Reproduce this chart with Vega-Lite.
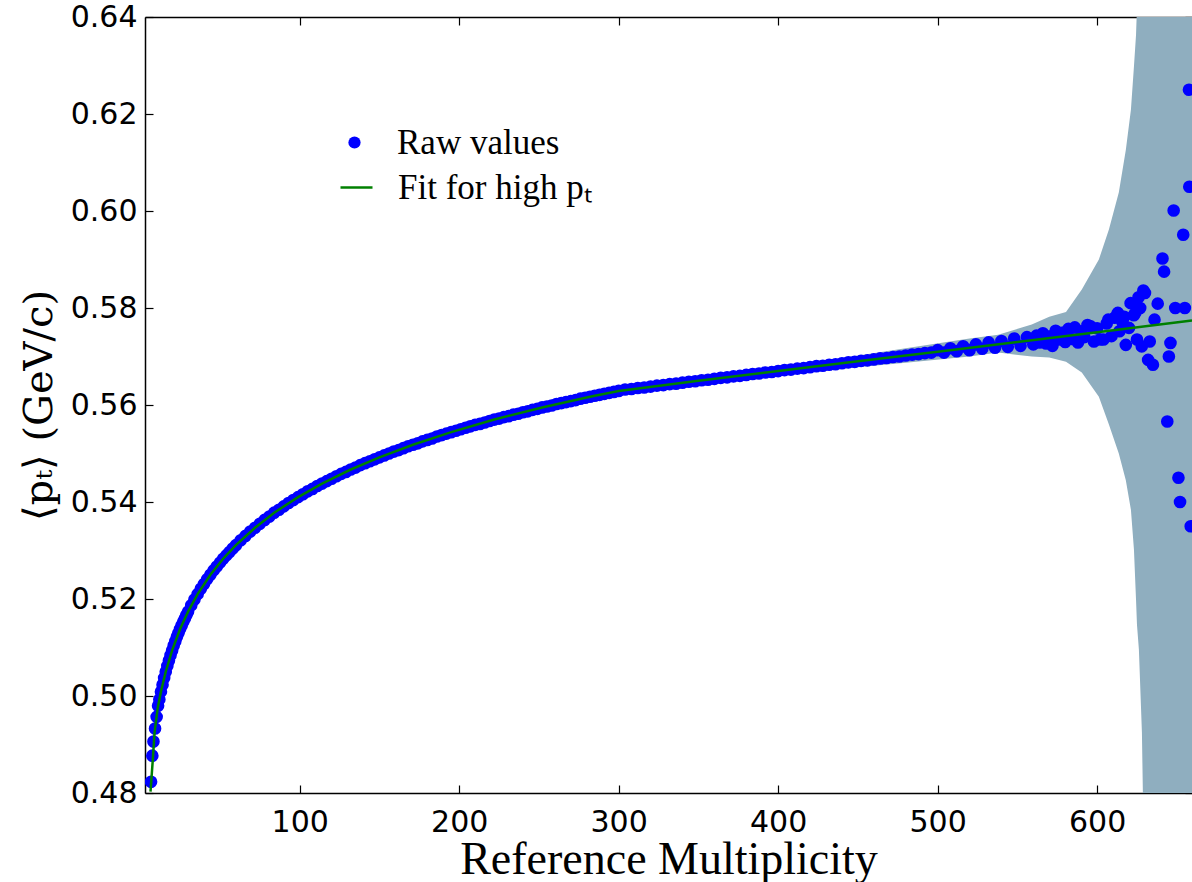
{
  "$schema": "https://vega.github.io/schema/vega-lite/v6.json",
  "width": 1047,
  "height": 776,
  "autosize": {"type": "none"},
  "padding": {"left": 145, "top": 17, "right": 0, "bottom": 89},
  "background": "white",
  "config": {
    "view": {"stroke": null},
    "axis": {
      "grid": false,
      "domainColor": "black",
      "domainWidth": 1.5,
      "tickColor": "black",
      "tickWidth": 1.2,
      "labelColor": "black",
      "labelFont": "DejaVu Sans",
      "labelFontSize": 30,
      "labelFlush": false,
      "labelOverlap": false,
      "titleColor": "black",
      "titleFont": "Liberation Serif",
      "titleFontSize": 46,
      "titleFontWeight": "normal"
    },
    "legend": {
      "labelFont": "Liberation Serif",
      "labelFontSize": 35,
      "labelColor": "black",
      "labelLimit": 0,
      "padding": 0
    }
  },
  "datasets": {
    "raw": [
      {"m":6.8,"v":0.4823},{"m":7.6,"v":0.4877},{"m":8.3,"v":0.4906},{"m":9.3,"v":0.4933},{"m":10.3,"v":0.4957},{"m":11.2,"v":0.4980},
      {"m":12,"v":0.4993},{"m":13,"v":0.5009},{"m":14,"v":0.5023},{"m":15,"v":0.5037},{"m":16,"v":0.5050},{"m":17,"v":0.5062},{"m":18,"v":0.5073},{"m":19,"v":0.5084},{"m":20,"v":0.5094},{"m":21,"v":0.5104},{"m":22,"v":0.5113},{"m":23,"v":0.5122},{"m":24,"v":0.5130},{"m":25,"v":0.5138},{"m":26,"v":0.5146},{"m":27,"v":0.5153},{"m":28,"v":0.5160},{"m":29,"v":0.5167},{"m":30,"v":0.5174},
      {"m":32,"v":0.5187},{"m":34,"v":0.5199},{"m":36,"v":0.5210},{"m":38,"v":0.5221},{"m":40,"v":0.5231},{"m":42,"v":0.5241},{"m":44,"v":0.5250},{"m":46,"v":0.5259},{"m":48,"v":0.5267},{"m":50,"v":0.5275},{"m":52,"v":0.5283},{"m":54,"v":0.5290},{"m":56,"v":0.5297},{"m":58,"v":0.5304},{"m":60,"v":0.5311},
      {"m":63,"v":0.5321},{"m":66,"v":0.5330},{"m":69,"v":0.5339},{"m":72,"v":0.5347},{"m":75,"v":0.5355},{"m":78,"v":0.5363},{"m":81,"v":0.5370},{"m":84,"v":0.5378},{"m":87,"v":0.5384},{"m":90,"v":0.5391},{"m":93,"v":0.5398},{"m":96,"v":0.5404},{"m":99,"v":0.5410},{"m":102,"v":0.5416},{"m":105,"v":0.5422},{"m":108,"v":0.5427},{"m":111,"v":0.5433},{"m":114,"v":0.5438},{"m":117,"v":0.5443},{"m":120,"v":0.5448},{"m":123,"v":0.5453},{"m":126,"v":0.5458},{"m":129,"v":0.5462},{"m":132,"v":0.5467},{"m":135,"v":0.5471},{"m":138,"v":0.5476},{"m":141,"v":0.5480},{"m":144,"v":0.5484},{"m":147,"v":0.5488},{"m":150,"v":0.5492},{"m":153,"v":0.5496},{"m":156,"v":0.5500},{"m":159,"v":0.5504},{"m":162,"v":0.5507},{"m":165,"v":0.5511},{"m":168,"v":0.5515},{"m":171,"v":0.5518},{"m":174,"v":0.5521},{"m":177,"v":0.5525},{"m":180,"v":0.5528},{"m":183,"v":0.5531},{"m":186,"v":0.5535},{"m":189,"v":0.5538},{"m":192,"v":0.5541},{"m":195,"v":0.5544},{"m":198,"v":0.5547},{"m":201,"v":0.5550},{"m":204,"v":0.5553},{"m":207,"v":0.5556},{"m":210,"v":0.5559},{"m":213,"v":0.5561},{"m":216,"v":0.5564},{"m":219,"v":0.5567},{"m":222,"v":0.5570},{"m":225,"v":0.5572},{"m":228,"v":0.5575},{"m":231,"v":0.5577},{"m":234,"v":0.5580},{"m":237,"v":0.5582},{"m":240,"v":0.5585},{"m":243,"v":0.5587},{"m":246,"v":0.5590},{"m":249,"v":0.5592},{"m":252,"v":0.5595},{"m":255,"v":0.5597},{"m":258,"v":0.5599},{"m":261,"v":0.5602},{"m":264,"v":0.5604},{"m":267,"v":0.5606},{"m":270,"v":0.5608},{"m":273,"v":0.5610},{"m":276,"v":0.5613},{"m":279,"v":0.5615},{"m":282,"v":0.5617},{"m":285,"v":0.5619},{"m":288,"v":0.5621},{"m":291,"v":0.5623},{"m":294,"v":0.5625},{"m":297,"v":0.5627},{"m":300,"v":0.5629},
      {"m":304,"v":0.5632},{"m":308,"v":0.5633},{"m":312,"v":0.5635},{"m":316,"v":0.5636},{"m":320,"v":0.5638},{"m":324,"v":0.5640},{"m":328,"v":0.5641},{"m":332,"v":0.5643},{"m":336,"v":0.5644},{"m":340,"v":0.5646},{"m":344,"v":0.5648},{"m":348,"v":0.5649},{"m":352,"v":0.5651},{"m":356,"v":0.5652},{"m":360,"v":0.5654},{"m":364,"v":0.5656},{"m":368,"v":0.5657},{"m":372,"v":0.5659},{"m":376,"v":0.5660},{"m":380,"v":0.5662},{"m":384,"v":0.5664},{"m":388,"v":0.5665},{"m":392,"v":0.5667},{"m":396,"v":0.5668},{"m":400,"v":0.5670},{"m":404,"v":0.5672},{"m":408,"v":0.5673},{"m":412,"v":0.5675},{"m":416,"v":0.5676},{"m":420,"v":0.5678},{"m":424,"v":0.5680},{"m":428,"v":0.5681},{"m":432,"v":0.5683},{"m":436,"v":0.5684},{"m":440,"v":0.5686},{"m":444,"v":0.5688},{"m":448,"v":0.5689},{"m":452,"v":0.5691},{"m":456,"v":0.5692},{"m":460,"v":0.5694},{"m":464,"v":0.5696},{"m":468,"v":0.5697},{"m":472,"v":0.5699},{"m":476,"v":0.5700},{"m":480,"v":0.5702},{"m":484,"v":0.5704},{"m":488,"v":0.5705},{"m":492,"v":0.5707},{"m":496,"v":0.5708},
      {"m":500,"v":0.5713},{"m":504,"v":0.5708},{"m":508,"v":0.5717},{"m":512,"v":0.5711},{"m":516,"v":0.5721},{"m":520,"v":0.5713},{"m":524,"v":0.5725},{"m":528,"v":0.5716},{"m":532,"v":0.5729},{"m":536,"v":0.5718},{"m":540,"v":0.5732},{"m":544,"v":0.5720},{"m":548,"v":0.5737},{"m":552,"v":0.5722},{"m":556,"v":0.5740},{"m":560,"v":0.5725},
      {"m":562,"v":0.5743},{"m":564,"v":0.5729},{"m":566,"v":0.5748},{"m":568,"v":0.5727},{"m":570,"v":0.5741},{"m":572,"v":0.5722},{"m":574,"v":0.5753},{"m":576,"v":0.5735},{"m":578,"v":0.5749},{"m":580,"v":0.5730},{"m":582,"v":0.5757},{"m":584,"v":0.5736},{"m":586,"v":0.5760},{"m":588,"v":0.5729},{"m":590,"v":0.5752},{"m":592,"v":0.5740},{"m":594,"v":0.5765},{"m":596,"v":0.5762},{"m":598,"v":0.5731},{"m":600,"v":0.5758},{"m":602,"v":0.5735},{"m":604,"v":0.5735},{"m":606,"v":0.5768},{"m":607,"v":0.5776},{"m":609,"v":0.5742},{"m":611,"v":0.5780},{"m":613,"v":0.5790},{"m":614,"v":0.5752},{"m":616,"v":0.5770},{"m":617,"v":0.5782},{"m":618,"v":0.5724},{"m":620,"v":0.5759},{"m":621,"v":0.5810},{"m":623,"v":0.5785},{"m":624,"v":0.5790},{"m":625,"v":0.5735},{"m":626,"v":0.5822},{"m":627,"v":0.5800},{"m":628,"v":0.5721},{"m":629,"v":0.5836},{"m":630,"v":0.5831},{"m":632,"v":0.5693},{"m":633,"v":0.5731},{"m":635,"v":0.5683},{"m":636,"v":0.5776},{"m":638,"v":0.5809},{"m":641,"v":0.5902},{"m":642,"v":0.5875},{"m":644,"v":0.5566},{"m":645,"v":0.5700},{"m":646,"v":0.5728},{"m":648,"v":0.6001},{"m":649,"v":0.5800},{"m":651,"v":0.5450},{"m":652,"v":0.5400},{"m":654,"v":0.5951},{"m":655,"v":0.5800},{"m":657.6,"v":0.6250},{"m":657.8,"v":0.6050},{"m":658.7,"v":0.5350}
    ],
    "fit": [
      {"m":6.45,"v":0.4803},{"m":7.9,"v":0.4869},{"m":9,"v":0.4925},{"m":11,"v":0.4976},{"m":13,"v":0.5009},{"m":16,"v":0.5050},{"m":20,"v":0.5094},{"m":25,"v":0.5138},{"m":30,"v":0.5174},{"m":36,"v":0.5210},{"m":44,"v":0.5250},{"m":52,"v":0.5283},{"m":60,"v":0.5311},{"m":72,"v":0.5347},{"m":84,"v":0.5378},{"m":99,"v":0.5410},{"m":114,"v":0.5438},{"m":132,"v":0.5467},{"m":150,"v":0.5492},{"m":171,"v":0.5518},{"m":195,"v":0.5544},{"m":222,"v":0.5570},{"m":252,"v":0.5595},{"m":282,"v":0.5617},{"m":300,"v":0.5629},{"m":350,"v":0.5650},{"m":400,"v":0.5670},{"m":450,"v":0.5690},{"m":500,"v":0.5710},{"m":550,"v":0.5730},{"m":600,"v":0.5750},{"m":659.5,"v":0.5774}
    ],
    "band": [
      {"m":440,"lo":0.5675,"hi":0.5697},{"m":480,"lo":0.5687,"hi":0.5717},{"m":520,"lo":0.5700,"hi":0.5737},{"m":538,"lo":0.5708,"hi":0.5745},{"m":559,"lo":0.5700,"hi":0.5766},{"m":570,"lo":0.5698,"hi":0.5782},{"m":580.5,"lo":0.5689,"hi":0.5792},{"m":590.4,"lo":0.5667,"hi":0.5838},{"m":601.1,"lo":0.5617,"hi":0.5900},{"m":607.4,"lo":0.5560,"hi":0.5962},{"m":613.6,"lo":0.5500,"hi":0.6038},{"m":618,"lo":0.5445,"hi":0.6126},{"m":621.2,"lo":0.5384,"hi":0.6209},{"m":623.1,"lo":0.5302,"hi":0.6298},{"m":624.4,"lo":0.5199,"hi":0.6363},{"m":625,"lo":0.5147,"hi":0.6420},{"m":626.2,"lo":0.5096,"hi":0.6600},{"m":628.1,"lo":0.4924,"hi":0.6800},{"m":628.8,"lo":0.4780,"hi":0.7000},{"m":630,"lo":0.4000,"hi":0.7000},{"m":659.5,"lo":0.4000,"hi":0.7000}
    ]
  },
  "layer": [
    {
      "data": {"name": "band"},
      "mark": {"type": "area", "color": "#8faebf", "opacity": 1, "clip": true},
      "encoding": {
        "x": {"field": "m", "type": "quantitative", "scale": {"domain": [3, 659.5], "nice": false, "zero": false},
          "axis": {"orient": "top", "values": [100, 200, 300, 400, 500, 600], "labels": false, "tickSize": -8, "title": null, "domain": true}},
        "y": {"field": "lo", "type": "quantitative", "scale": {"domain": [0.48, 0.64], "nice": false, "zero": false},
          "axis": {"orient": "right", "values": [0.48, 0.5, 0.52, 0.54, 0.56, 0.58, 0.6, 0.62, 0.64], "labels": false, "tickSize": -7, "title": null, "domain": false}},
        "y2": {"field": "hi"}
      }
    },
    {
      "data": {"name": "raw"},
      "mark": {"type": "point", "filled": true, "size": 160, "opacity": 1, "clip": true},
      "encoding": {
        "x": {"field": "m", "type": "quantitative",
          "axis": {"orient": "bottom", "values": [100, 200, 300, 400, 500, 600], "tickSize": -8, "labelPadding": 22, "title": "Reference Multiplicity", "titleBaseline": "alphabetic", "titleY": 80}},
        "y": {"field": "v", "type": "quantitative",
          "axis": {"orient": "left", "values": [0.48, 0.5, 0.52, 0.54, 0.56, 0.58, 0.6, 0.62, 0.64], "format": ".2f", "tickSize": -8, "labelPadding": 16, "title": "⟨pₜ⟩ (GeV/c)", "titleFont": "DejaVu Serif", "titleFontSize": 40, "titleBaseline": "alphabetic", "titleX": -94}},
        "color": {"datum": "Raw values", "type": "nominal",
          "scale": {"domain": ["Raw values"], "range": ["#0000ff"]},
          "legend": {
            "orient": "none", "legendX": 192, "legendY": 108, "title": null,
            "symbolType": "circle", "symbolSize": 150, "labelOffset": 25
          }}
      }
    },
    {
      "data": {"name": "fit"},
      "mark": {"type": "line", "strokeWidth": 2.5, "clip": true},
      "encoding": {
        "x": {"field": "m", "type": "quantitative", "axis": null},
        "y": {"field": "v", "type": "quantitative", "axis": null},
        "stroke": {"datum": "Fit for high pₜ", "type": "nominal",
          "scale": {"domain": ["Fit for high pₜ"], "range": ["#008000"]},
          "legend": {
            "orient": "none", "legendX": 194, "legendY": 153, "title": null,
            "symbolType": "stroke", "symbolSize": 1024, "symbolStrokeWidth": 2.5, "labelOffset": 24
          }}
      }
    }
  ],
  "resolve": {"axis": {"x": "independent", "y": "independent"}}
}
